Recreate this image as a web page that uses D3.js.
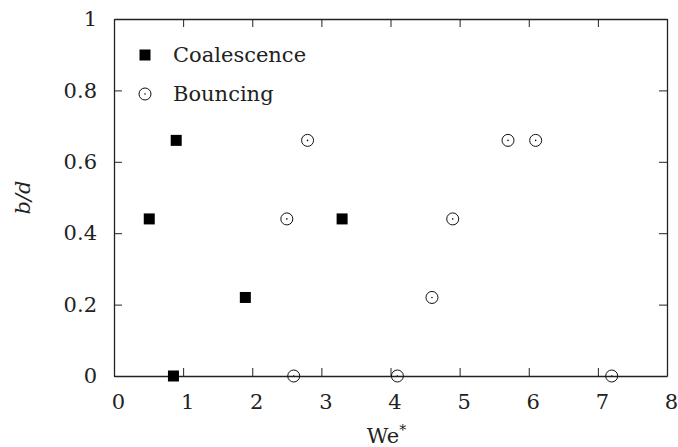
<!DOCTYPE html>
<html>
<head>
<meta charset="utf-8">
<script src="https://cdn.jsdelivr.net/npm/d3@7"></script>
<style>
  body { margin: 0; background: #fff; }
  text { font-family: "DejaVu Serif", serif; fill: #222; }
</style>
</head>
<body>
<svg id="chart" width="678" height="447"></svg>
<script>
// data
var coalescenceWe = [0.51, 0.90, 0.86, 1.90, 3.30]
var coalescenceB = [0.44, 0.66, 0.00, 0.22, 0.44]
var bouncingWe = [2.50, 2.80, 2.60, 4.10, 4.60, 4.90, 5.70, 6.10, 7.20]
var bouncingB = [0.44, 0.66, 0.00, 0.00, 0.22, 0.44, 0.66, 0.66, 0.00]
var xTicks = [0, 1, 2, 3, 4, 5, 6, 7, 8]
var yTicks = [0, 0.2, 0.4, 0.6, 0.8, 1]
var seriesNames = ["Coalescence", "Bouncing"]

var svg = d3.select("#chart")
var plotLeft = 114, plotRight = 667, plotTop = 19, plotBottom = 376
var fontSize = 21

var x = d3.scaleLinear().domain([0, 8]).range([plotLeft, plotRight])
var y = d3.scaleLinear().domain([0, 1]).range([plotBottom, plotTop])

function fmt(d) { return d3.format("~g")(d) }

// axes, ticks pointing inwards on all four sides
var axes = [
  { axis: d3.axisBottom(x).tickValues(xTicks).tickFormat(fmt).tickPadding(18), t: "translate(0," + plotBottom + ")", dx: 4 },
  { axis: d3.axisTop(x).tickValues(xTicks).tickFormat(""), t: "translate(0," + plotTop + ")", dx: 0 },
  { axis: d3.axisLeft(y).tickValues(yTicks).tickFormat(fmt).tickPadding(17), t: "translate(" + plotLeft + ",0)", dx: 0 },
  { axis: d3.axisRight(y).tickValues(yTicks).tickFormat(""), t: "translate(" + plotRight + ",0)", dx: 0 }
]

axes.forEach(function (a) {
  var g = svg.append("g")
    .attr("transform", a.t)
    .call(a.axis.tickSizeInner(-8).tickSizeOuter(0))
  g.select(".domain").attr("stroke", "#222").attr("stroke-width", 1.3)
  g.selectAll(".tick line").attr("stroke", "#222").attr("stroke-width", 1)
  g.selectAll(".tick text")
    .attr("dx", a.dx)
    .style("font-family", '"DejaVu Serif", serif')
    .style("font-size", fontSize + "px")
    .attr("fill", "#222")
})

// axis labels
svg.append("text")
  .attr("x", (plotLeft + plotRight) / 2 - 4)
  .attr("y", 443)
  .attr("text-anchor", "middle")
  .style("font-size", fontSize + "px")
  .text("We")
  .append("tspan")
  .attr("dy", -8)
  .style("font-size", "14px")
  .text("*")

svg.append("text")
  .attr("transform", "translate(30," + ((plotTop + plotBottom) / 2) + ") rotate(-90)")
  .attr("text-anchor", "middle")
  .style("font-size", fontSize + "px")
  .style("font-style", "italic")
  .text("b/d")

// markers
function square(g, cx, cy) {
  g.append("rect")
    .attr("x", cx - 5.5).attr("y", cy - 5.5)
    .attr("width", 11).attr("height", 11)
    .attr("fill", "#000")
}

function dotCircle(g, cx, cy) {
  g.append("circle").attr("cx", cx).attr("cy", cy).attr("r", 6)
    .attr("fill", "none").attr("stroke", "#111").attr("stroke-width", 1)
  g.append("circle").attr("cx", cx).attr("cy", cy).attr("r", 0.8)
    .attr("fill", "#111")
}

var pts = svg.append("g")
coalescenceWe.forEach(function (d, i) { square(pts, x(d), y(coalescenceB[i])) })
bouncingWe.forEach(function (d, i) { dotCircle(pts, x(d), y(bouncingB[i])) })

// legend
var legend = svg.append("g")
var markers = [square, dotCircle]
seriesNames.forEach(function (name, i) {
  var ly = 55 + i * 39
  markers[i](legend, 145, ly)
  legend.append("text")
    .attr("x", 173)
    .attr("y", ly + 7)
    .style("font-size", fontSize + "px")
    .text(name)
})
</script>
</body>
</html>
